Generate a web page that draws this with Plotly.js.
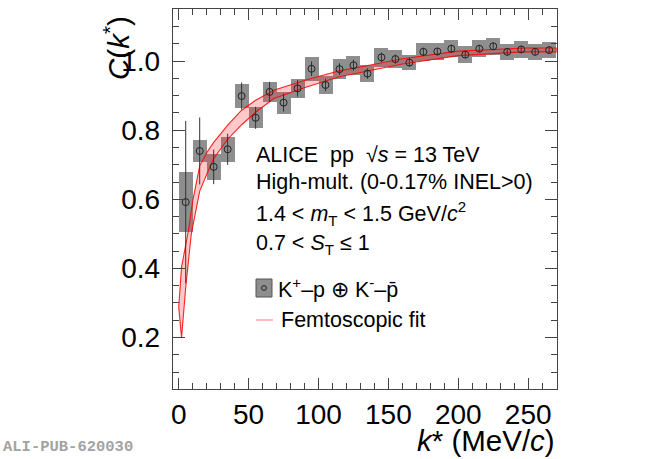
<!DOCTYPE html>
<html>
<head>
<meta charset="utf-8">
<script src="https://cdn.plot.ly/plotly-3.0.1.min.js"></script>
<style>
  html, body { margin: 0; padding: 0; background: #fff; }
  #plot { width: 650px; height: 459px; }
</style>
</head>
<body>
<div id="plot"></div>
<script>
// ─── Data ───────────────────────────────────────────────────────
// K+p ⊕ K-pbar correlation, 10 MeV/c bins
const kStar = [5, 15, 25, 35, 45, 55, 65, 75, 85, 95, 105, 115, 125, 135,
               145, 155, 165, 175, 185, 195, 205, 215, 225, 235, 245, 255, 265];
const cVal = [0.592, 0.740, 0.694, 0.745, 0.899, 0.836, 0.911, 0.880, 0.921,
              0.978, 0.931, 0.977, 0.988, 0.964, 1.011, 1.006, 0.996, 1.027,
              1.028, 1.036, 1.019, 1.036, 1.043, 1.027, 1.034, 1.027, 1.032];
const statErr = [0.235, 0.097, 0.050, 0.045, 0.039, 0.032, 0.029, 0.026, 0.024,
                 0.021, 0.018, 0.017, 0.016, 0.015, 0.014, 0.013, 0.012, 0.012,
                 0.011, 0.011, 0.010, 0.010, 0.010, 0.010, 0.010, 0.010, 0.010];
const systErr = [0.087, 0.033, 0.038, 0.036, 0.036, 0.030, 0.029, 0.032, 0.027,
                 0.034, 0.027, 0.030, 0.028, 0.024, 0.027, 0.025, 0.023, 0.027,
                 0.025, 0.024, 0.025, 0.024, 0.025, 0.024, 0.024, 0.024, 0.024];

// Femtoscopic fit band (upper / lower edge)
const fitKUp  = [0, 2, 5, 7, 10, 15, 20, 25, 35, 45, 55, 68, 92, 115, 140, 160, 200, 247, 270];
const fitUp   = [0.288, 0.404, 0.468, 0.512, 0.595, 0.697, 0.735, 0.765, 0.815, 0.858,
                 0.887, 0.916, 0.947, 0.972, 0.991, 1.007, 1.029, 1.038, 1.038];
const fitKLow = [2, 5, 9, 15, 20, 25, 35, 45, 55, 68, 92, 115, 140, 160, 200, 247, 270];
const fitLow  = [0.199, 0.346, 0.500, 0.624, 0.672, 0.718, 0.774, 0.816, 0.852,
                 0.892, 0.926, 0.955, 0.976, 0.992, 1.016, 1.027, 1.027];

const yTicks = [0.2, 0.4, 0.6, 0.8, 1.0];
const xTicks = [0, 50, 100, 150, 200, 250];

// ─── Frame geometry (pixels in the 650x459 canvas) ─────────────
const W = 650, H = 459;
const M = { l: 173, r: 93, t: 9, b: 70 };
const PW = W - M.l - M.r, PH = H - M.t - M.b;
const px = x => (x - M.l) / PW;          // pixel → paper x
const py = y => (H - M.b - y) / PH;      // pixel → paper y

const FONT = 'Liberation Sans, Arial, Helvetica, sans-serif';
const AX = '#444';

// ─── Traces ────────────────────────────────────────────────────
const systBoxes = {
    type: 'bar', x: kStar,
    base: cVal.map((c, i) => c - systErr[i]),
    y: systErr.map(s => 2 * s),
    width: 10,
    marker: { color: '#8e8e8e', line: { width: 0 } },
    hoverinfo: 'skip', showlegend: false
};

const fitBand = {
    type: 'scatter', mode: 'lines',
    x: fitKUp.concat(fitKLow.slice().reverse(), [fitKUp[0]]),
    y: fitUp.concat(fitLow.slice().reverse(), [fitUp[0]]),
    fill: 'toself', fillcolor: 'rgba(255,40,40,0.25)',
    line: { color: 'rgba(255,0,0,0.85)', width: 1.1 },
    hoverinfo: 'skip', showlegend: false
};

const points = {
    type: 'scatter', mode: 'markers',
    x: kStar, y: cVal,
    error_y: { type: 'data', array: statErr, visible: true, width: 0, thickness: 1, color: '#333' },
    marker: { symbol: 'circle-open', size: 7, color: '#222', line: { width: 1 } },
    showlegend: false
};

// ─── Layout ────────────────────────────────────────────────────
const axisBase = {
    showline: true, linecolor: AX, linewidth: 1.3, mirror: 'ticks',
    ticks: 'inside', tickcolor: AX, tickwidth: 1,
    showgrid: false, zeroline: false,
    tickfont: { family: FONT, size: 28, color: '#000' }
};

const textLines = [
    { y: 155, t: 'ALICE  pp  √<i>s</i> = 13 TeV' },
    { y: 182, t: 'High-mult. (0-0.17% INEL>0)' },
    { y: 213, t: '1.4 < <i>m</i><sub>T</sub> < 1.5 GeV/<i>c</i><sup>2</sup>' },
    { y: 245, t: '0.7 < <i>S</i><sub>T</sub> ≤ 1' },
    { y: 288, t: 'K<sup>+</sup>–p ⊕ K<sup>-</sup>–p̄', x: 276 },
    { y: 320, t: 'Femtoscopic fit', x: 279 }
];

const annotations = textLines.map(l => ({
    xref: 'paper', yref: 'paper', x: px(l.x || 254), y: py(l.y),
    xanchor: 'left', yanchor: 'middle', showarrow: false, text: l.t,
    font: { family: FONT, size: 21.5, color: '#000' }
}));

annotations.push(
    // axis titles, ROOT style: right-aligned to the axis end
    { xref: 'paper', yref: 'paper', x: px(557), y: py(440), xanchor: 'right', yanchor: 'middle',
      showarrow: false, text: '<i>k</i>* (MeV/<i>c</i>)',
      font: { family: FONT, size: 29.5, color: '#000' } },
    { xref: 'paper', yref: 'paper', x: px(117), y: py(48), xanchor: 'center', yanchor: 'middle',
      textangle: -90, showarrow: false, text: '<i>C</i>(<i>k</i><sup>*</sup>)',
      font: { family: FONT, size: 29.5, color: '#000' } },
    // publication tag
    { xref: 'paper', yref: 'paper', x: px(1), y: py(447), xanchor: 'left', yanchor: 'middle',
      showarrow: false, text: '<b>ALI-PUB-620030</b>',
      font: { family: 'Liberation Mono, DejaVu Sans Mono, monospace', size: 15.5, color: '#a3a3a3' } }
);

const shapes = [
    // legend swatch: syst box + marker
    { type: 'rect', xref: 'paper', yref: 'paper', x0: px(256), x1: px(272), y0: py(297), y1: py(279),
      fillcolor: '#8e8e8e', line: { color: '#555', width: 1 } },
    { type: 'circle', xref: 'paper', yref: 'paper', x0: px(261.6), x1: px(266.4), y0: py(290.4), y1: py(285.6),
      fillcolor: 'rgba(0,0,0,0)', line: { color: '#222', width: 1 } },
    // legend line for the fit
    { type: 'line', xref: 'paper', yref: 'paper', x0: px(256), x1: px(273), y0: py(320), y1: py(320),
      line: { color: '#ff8f8f', width: 1.2 } }
];

const layout = {
    width: W, height: H,
    margin: M,
    paper_bgcolor: '#fff', plot_bgcolor: '#fff',
    barmode: 'overlay', bargap: 0,
    showlegend: false,
    xaxis: Object.assign({}, axisBase, {
        range: [-4.1, 270.6], tickvals: xTicks, ticklen: 11, ticklabelstandoff: 0,
        minor: { dtick: 10, tick0: 0, ticks: 'inside', ticklen: 6, tickcolor: AX, tickwidth: 1 }
    }),
    yaxis: Object.assign({}, axisBase, {
        range: [0.051, 1.151], tickvals: yTicks, tickformat: '.1f', ticklen: 12, ticklabelstandoff: 6,
        minor: { dtick: 0.05, tick0: 0, ticks: 'inside', ticklen: 6, tickcolor: AX, tickwidth: 1 }
    }),
    annotations: annotations,
    shapes: shapes
};

Plotly.newPlot('plot', [systBoxes, fitBand, points], layout, { staticPlot: true, displayModeBar: false });
</script>
</body>
</html>
